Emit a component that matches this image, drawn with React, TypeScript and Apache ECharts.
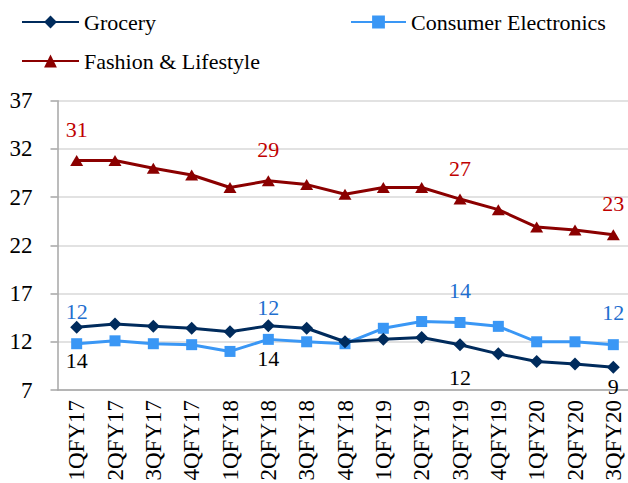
import React, { useEffect, useRef } from "react";
import * as echarts from "echarts";

const categories = ["1QFY17", "2QFY17", "3QFY17", "4QFY17", "1QFY18", "2QFY18", "3QFY18", "4QFY18", "1QFY19", "2QFY19", "3QFY19", "4QFY19", "1QFY20", "2QFY20", "3QFY20"];
const grocery = [13.5, 13.85, 13.6, 13.4, 13.05, 13.65, 13.4, 12.0, 12.25, 12.45, 11.7, 10.75, 9.95, 9.7, 9.35];
const electronics = [11.8, 12.1, 11.8, 11.7, 11.0, 12.25, 12.0, 11.8, 13.4, 14.1, 14.0, 13.6, 12.0, 12.0, 11.7];
const fashion = [30.8, 30.8, 30.0, 29.3, 28.0, 28.7, 28.3, 27.3, 28.0, 28.0, 26.8, 25.7, 23.9, 23.6, 23.1];
const labelledIndices = [0, 5, 10, 14];
const yMin = 7;
const yMax = 37;
const yStep = 5;

const FONT = "'Liberation Serif', 'Times New Roman', serif";

function withLabels(values: number[], color: string, offsetFor: (i: number) => number) {
  return values.map((v, i) =>
    labelledIndices.includes(i)
      ? {
          value: v,
          label: {
            show: true,
            position: "inside",
            offset: [0, offsetFor(i)],
            color,
            fontFamily: FONT,
            fontSize: 22,
            formatter: (p: any) => String(Math.round(p.value)),
          },
        }
      : v
  );
}

export default function App() {
  const ref = useRef<HTMLDivElement>(null);
  useEffect(() => {
    if (!ref.current) return;
    const chart = echarts.init(ref.current, null, { renderer: "svg" });
    const legendText = { fontFamily: FONT, fontSize: 22, color: "#000" };
    chart.setOption({
      animation: false,
      backgroundColor: "#fff",
      legend: [
        { data: ["Grocery"], left: 21, top: 11, itemWidth: 57, itemHeight: 16, textStyle: legendText, padding: 0 },
        { data: ["Consumer Electronics"], left: 350, top: 11, itemWidth: 55, itemHeight: 16, textStyle: legendText, padding: 0 },
        { data: ["Fashion & Lifestyle"], left: 21, top: 50, itemWidth: 57, itemHeight: 16, textStyle: legendText, padding: 0 },
      ],
      grid: { left: 57.5, right: -4.5, top: 100.7, bottom: 93, containLabel: false, outerBoundsMode: "none" },
      xAxis: {
        type: "category",
        data: categories,
        boundaryGap: true,
        axisLine: { show: true, lineStyle: { color: "#a6a6a6", width: 1.5 } },
        axisTick: { show: false },
        axisLabel: { rotate: 90, margin: 10, fontFamily: FONT, fontSize: 23, color: "#000", interval: 0 },
      },
      yAxis: {
        type: "value",
        min: yMin,
        max: yMax,
        interval: yStep,
        axisLine: { show: true, lineStyle: { color: "#a6a6a6", width: 1.5 } },
        axisTick: { show: true, length: 7, lineStyle: { color: "#a6a6a6", width: 1.5 } },
        axisLabel: { margin: 25, fontFamily: FONT, fontSize: 23, color: "#000" },
        splitLine: { show: true, lineStyle: { color: "#d9d9d9", width: 1.5 } },
      },
      series: [
        {
          name: "Grocery",
          type: "line",
          data: withLabels(grocery, "#000", (i) => (i === 14 ? 19 : 33)),
          symbol: "diamond",
          symbolSize: 13,
          lineStyle: { color: "#002b5c", width: 3 },
          itemStyle: { color: "#002b5c" },
          z: 3,
        },
        {
          name: "Consumer Electronics",
          type: "line",
          data: withLabels(electronics, "#1f6fcf", () => -32),
          symbol: "rect",
          symbolSize: 11,
          lineStyle: { color: "#3a97f5", width: 3 },
          itemStyle: { color: "#3a97f5" },
          z: 2,
        },
        {
          name: "Fashion & Lifestyle",
          type: "line",
          data: withLabels(fashion, "#c00000", () => -31),
          symbol: "triangle",
          symbolSize: [13, 11],
          lineStyle: { color: "#8b0000", width: 3 },
          itemStyle: { color: "#8b0000" },
          z: 2,
        },
      ],
    });
    return () => chart.dispose();
  }, []);
  return <div ref={ref} style={{ position: "fixed", left: 0, top: 0, width: 628, height: 483 }} />;
}
